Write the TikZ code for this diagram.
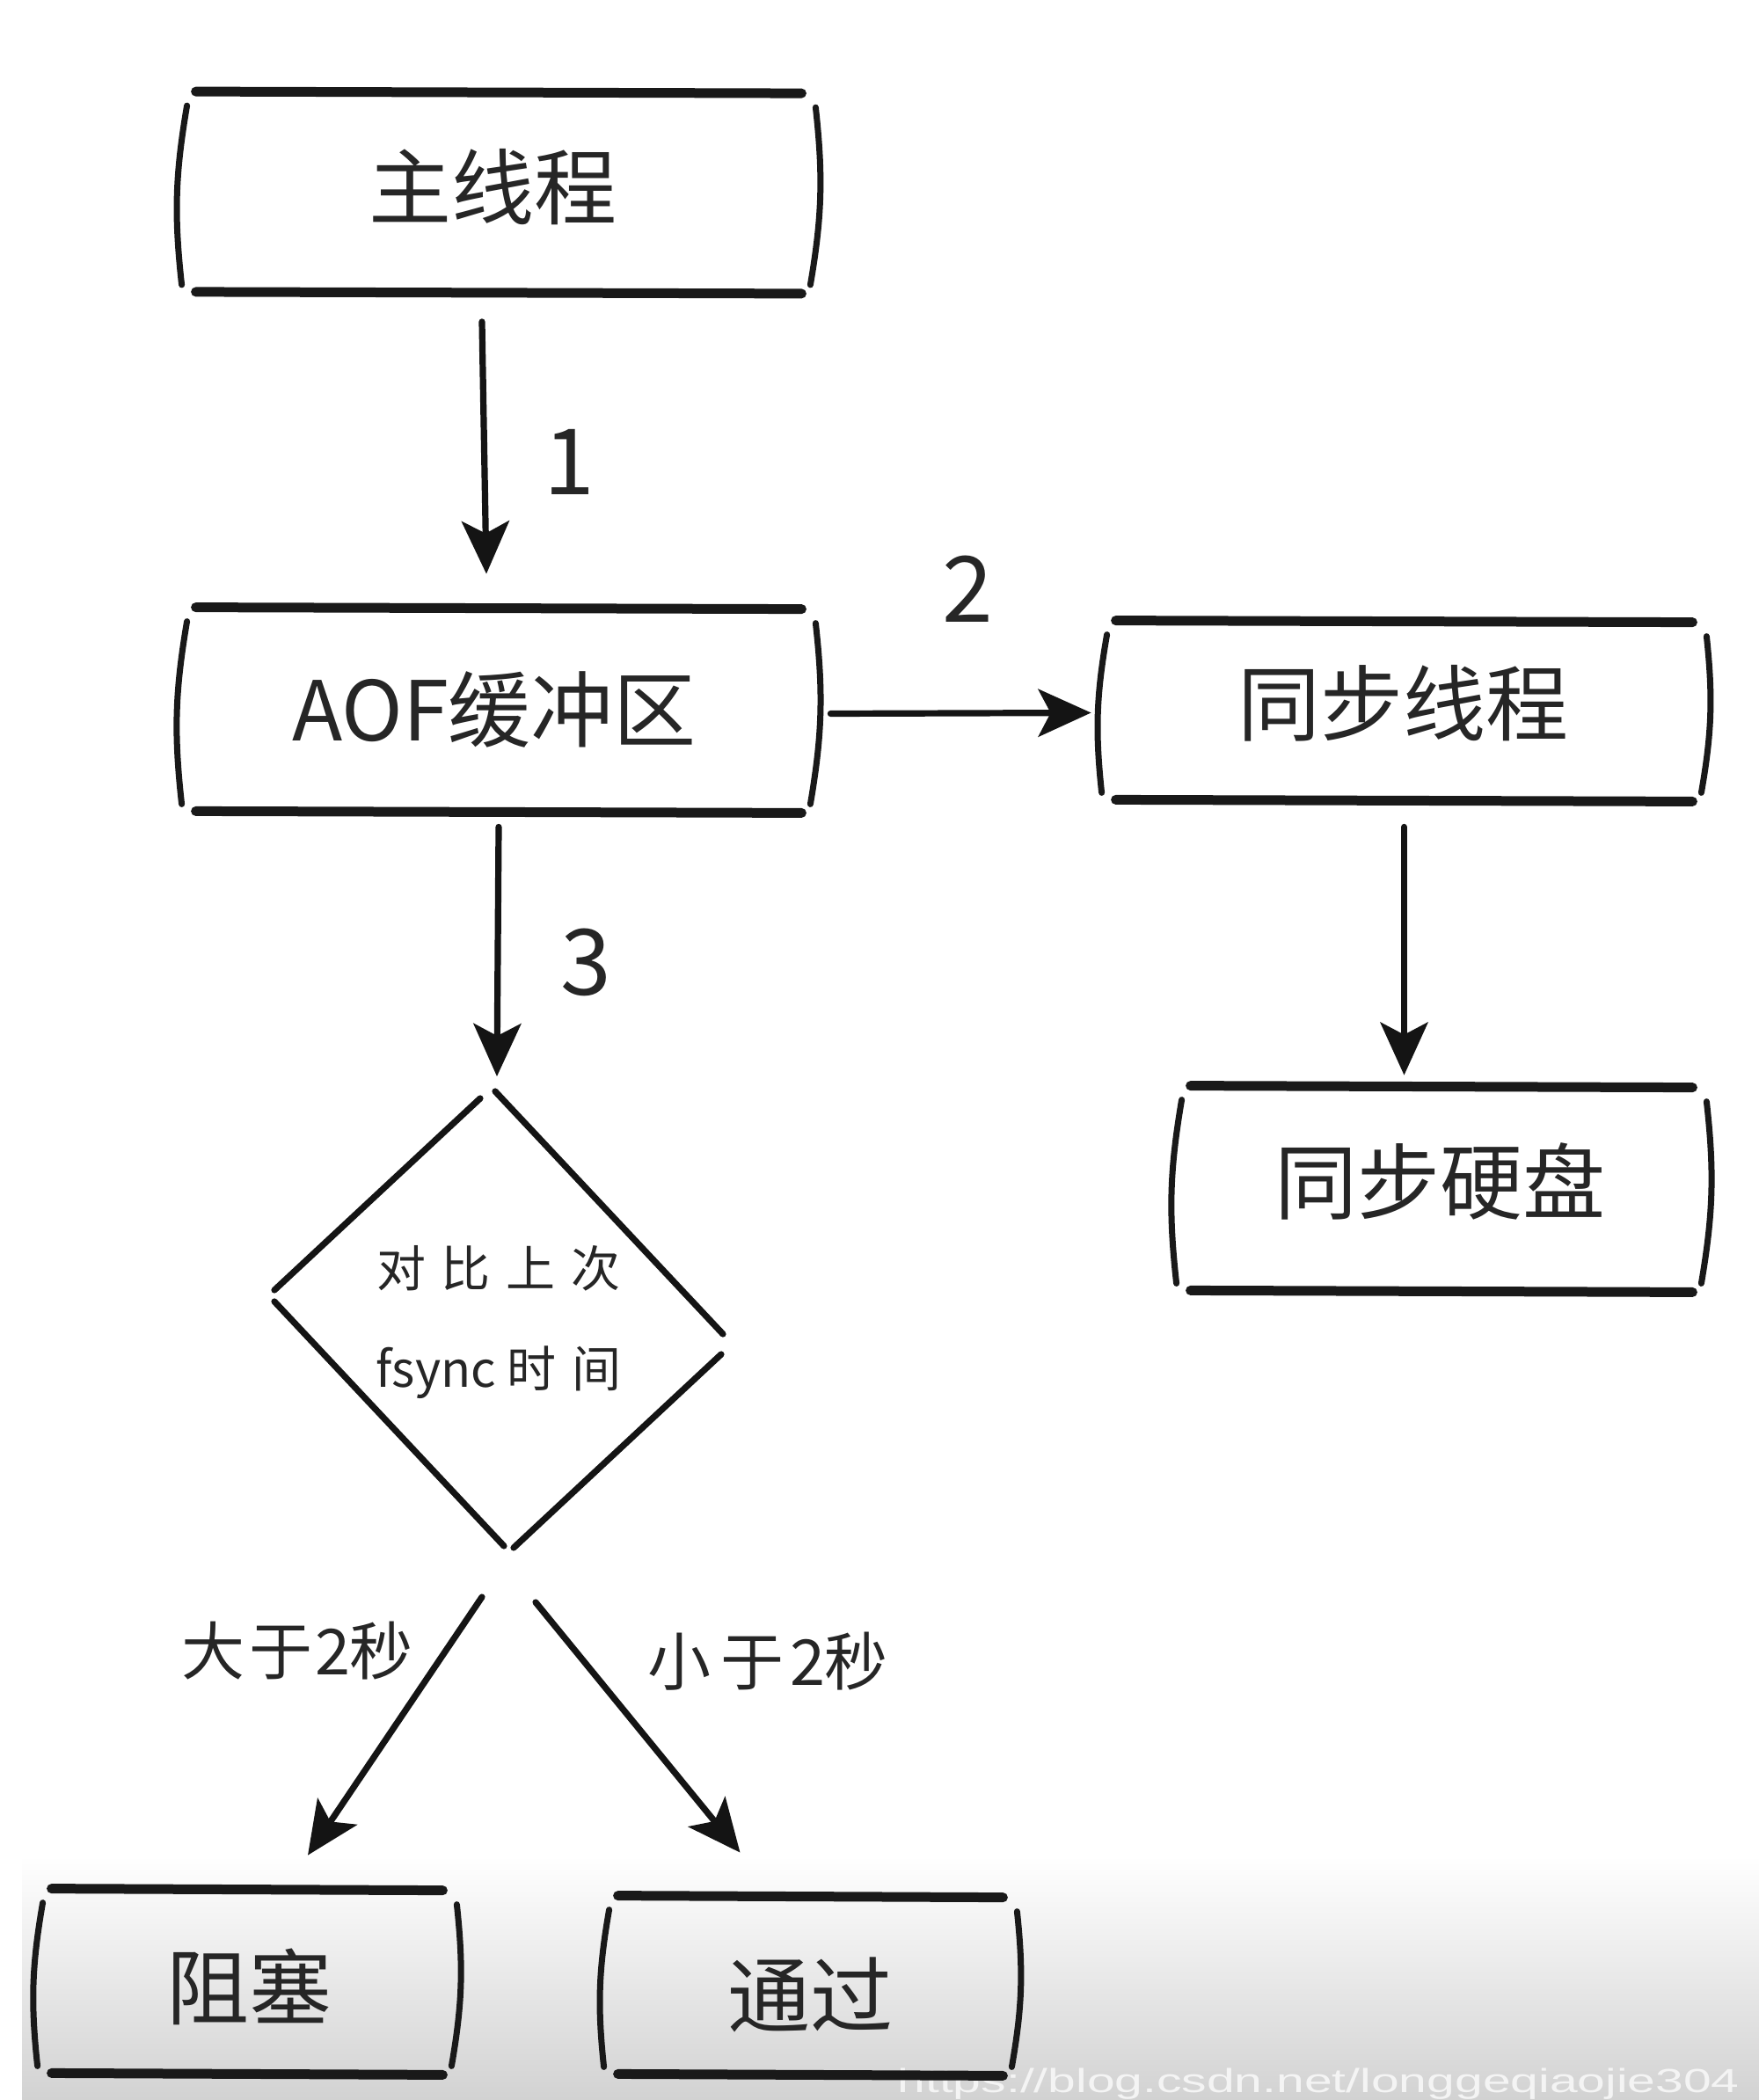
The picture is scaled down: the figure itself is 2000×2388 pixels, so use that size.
\documentclass[tikz,border=0pt]{standalone}
\usepackage{fontspec}
\setmainfont{Noto Sans CJK SC}
\newfontfamily\wmfont{Liberation Sans}
\usetikzlibrary{arrows.meta}

\tikzset{
  x=0.5pt, y=-0.5pt,
  hline/.style={line width=5.5pt, line cap=round, draw=black!90},
  vline/.style={line width=3.5pt, line cap=round, draw=black!90},
  dline/.style={line width=3.6pt, line cap=round, draw=black!92},
  arr/.style={line width=3.6pt, line cap=round, draw=black!92,
    -{Stealth[length=30pt,width=27pt,inset=7pt]}},
  lbl/.style={text=black!85, inner sep=0pt},
  boxtxt/.style={lbl, font=\fontsize{47}{56}\selectfont},
  numtxt/.style={lbl, font=\fontsize{52}{60}\selectfont},
  brtxt/.style={lbl, font=\fontsize{36}{44}\selectfont},
  sbox/.style 2 args={minimum width=#1pt, minimum height=#2pt, inner sep=0pt},
}

% hand-drawn looking box around a named node
\newcommand{\sketchbox}[1]{%
  \draw[hline] ([shift={(7pt,1pt)}]#1.north west) -- ([shift={(-7pt,0pt)}]#1.north east);
  \draw[hline] ([shift={(7pt,0pt)}]#1.south west) -- ([shift={(-7pt,-1pt)}]#1.south east);
  \draw[vline] ([shift={(2pt,-7pt)}]#1.north west) to[bend right=8] ([shift={(-1pt,4pt)}]#1.south west);
  \draw[vline] ([shift={(1pt,-8pt)}]#1.north east) to[bend left=8] ([shift={(-2pt,4pt)}]#1.south east);
}
\newcommand{\gp}{\hspace{9pt}}

\begin{document}
\begin{tikzpicture}
  \useasboundingbox (0,0) rectangle (2000,2388);
  \fill[white] (0,0) rectangle (2000,2388);
  \begin{scope}
    \clip (0,0) rectangle (2000,2388);
    % greyish band along the lower edge
    \fill[top color=white, bottom color={rgb,255:red,210;green,210;blue,210}]
      (25,2110) rectangle (2000,2388);
    \node[anchor=base west, inner sep=0pt, xscale=1.5, text={rgb,255:red,244;green,244;blue,244},
      font=\wmfont\fontsize{19}{22}\selectfont] (wm) at (1020,2379)
      {https://blog.csdn.net/longgeqiaojie304};
  \end{scope}

  % boxes
  \node[sbox={358}{112.5}] (main) at (567,219) {};
  \node[boxtxt] (maint) at (560,213) {主线程};
  \node[sbox={358}{114.5}] (aof) at (567,807.5) {};
  \node[boxtxt] (aoft) at (562,807) {AOF缓冲区};
  \node[sbox={341.5}{100.5}] (sync) at (1596.5,808.5) {};
  \node[boxtxt] (synct) at (1595,800) {同步线程};
  \node[sbox={299}{115}] (disk) at (1639,1352) {};
  \node[boxtxt] (diskt) at (1637,1343) {同步硬盘};
  \node[sbox={236}{103.5}] (block) at (281,2253.5) {};
  \node[boxtxt] (blockt) at (283,2259) {阻塞};
  \node[sbox={232.5}{100}] (pass) at (921.5,2258) {};
  \node[boxtxt] (passt) at (921,2268) {通过};

  \foreach \b in {main,aof,sync,disk,block,pass} {\sketchbox{\b}}

  % decision diamond, drawn as four strokes
  \coordinate (dT) at (565,1238);
  \coordinate (dL) at (311,1472);
  \coordinate (dR) at (822,1528);
  \coordinate (dB) at (576,1760);
  \draw[dline] (546,1249) -- (312,1467);
  \draw[dline] (312,1480) -- (573,1758);
  \draw[dline] (584,1760) -- (820,1540);
  \draw[dline] (822,1517) -- (563,1241);
  \node[lbl, font=\fontsize{28}{57}\selectfont, align=center] (cmp) at (567,1504)
    {对\gp 比\gp 上\gp 次\\fsync\hspace{6pt}时\gp 间};

  % connectors
  \draw[arr] ([shift={(-9.5pt,-17pt)}]main.south) -- ([shift={(-7pt,20pt)}]aof.north);
  \draw[arr] ([shift={(9.5pt,-2pt)}]aof.east) -- ([shift={(-7pt,-1pt)}]sync.west);
  \draw[arr] ([yshift=-9pt]aof.south) -- ([yshift=7pt]dT);
  \draw[arr] ([yshift=-15.5pt]sync.south) -- ([yshift=7pt]sync.south |- disk.north);
  \draw[arr] ([shift={(-14pt,-28pt)}]dB) -- ([shift={(34.5pt,20pt)}]block.north);
  \draw[arr] ([shift={(16.5pt,-31pt)}]dB) -- ([shift={(-40pt,25.5pt)}]pass.north);

  % edge labels
  \node[numtxt] (n1) at (647,525) {1};
  \node[numtxt] (n2) at (1100,670) {2};
  \node[numtxt] (n3) at (666,1094) {3};
  \node[brtxt] (gt) at (338,1877) {大\hspace{3pt}于\hspace{1pt}2秒};
  \node[brtxt] (lt) at (873,1889) {小\hspace{6pt}于\hspace{3pt}2秒};
\end{tikzpicture}
\end{document}
